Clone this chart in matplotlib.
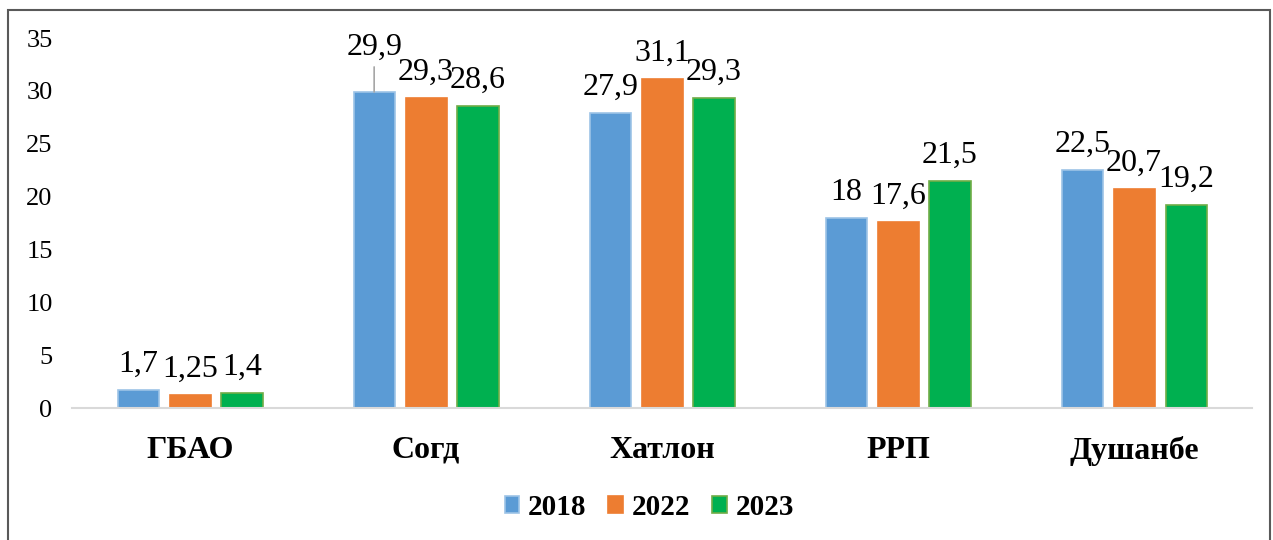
import matplotlib.pyplot as plt
from matplotlib.patches import Rectangle
import numpy as np

plt.rcParams['font.family'] = ['Liberation Serif', 'DejaVu Serif']

# Данные
regions = ['ГБАО', 'Согд', 'Хатлон', 'РРП', 'Душанбе']
years = ['2018', '2022', '2023']
v2018 = [1.7, 29.9, 27.9, 18, 22.5]
v2022 = [1.25, 29.3, 31.1, 17.6, 20.7]
v2023 = [1.4, 28.6, 29.3, 21.5, 19.2]
series = [v2018, v2022, v2023]
colors = ['#5B9BD5', '#ED7D31', '#00B050']
edges = ['#9DC3E6', '#ED7D31', '#70AD47']

fig = plt.figure(figsize=(12.73, 5.4), dpi=100)
ax = fig.add_axes([0.0566, 0.2444, 0.927, 0.6852])

x = np.arange(len(regions))
step, width = 0.22, 0.174

for i, (vals, year) in enumerate(zip(series, years)):
    pos = x + (i - 1) * step
    ax.bar(pos, vals, width, color=colors[i], edgecolor=edges[i], linewidth=1.2, label=year)
    for px, v in zip(pos, vals):
        txt = f'{v:g}'.replace('.', ',')
        if i == 0 and v == 29.9:
            # подпись с выноской
            ax.annotate(txt, (px, v), xytext=(0, 22), textcoords='offset points',
                        ha='center', va='bottom', fontsize=23,
                        arrowprops=dict(arrowstyle='-', color='#A6A6A6', lw=1.2,
                                        shrinkA=2, shrinkB=0))
        else:
            ax.annotate(txt, (px, v), xytext=(0, 8), textcoords='offset points',
                        ha='center', va='bottom', fontsize=23)

ax.set_xlim(-0.5, len(regions) - 0.5)
ax.set_ylim(0, 35)
ax.set_yticks(range(0, 36, 5))
ax.set_xticks(x)
ax.set_xticklabels(regions)
ax.tick_params(axis='both', length=0, labelsize=19)
ax.tick_params(axis='y', pad=14)
ax.tick_params(axis='x', pad=20)
for lbl in ax.get_xticklabels():
    lbl.set_fontsize(23)
    lbl.set_fontweight('bold')
for s in ['top', 'right', 'left']:
    ax.spines[s].set_visible(False)
ax.spines['bottom'].set_color('#D9D9D9')
ax.spines['bottom'].set_linewidth(1.5)

leg = fig.legend(loc='center', bbox_to_anchor=(0.51, 0.061), ncol=3, frameon=False,
                 prop={'size': 21, 'weight': 'bold'}, handlelength=0.5, handleheight=0.5,
                 handletextpad=0.3, columnspacing=0.75)

fig.add_artist(Rectangle((8 / 1273, -0.02), 1262 / 1273, 1 - 10 / 540 + 0.02,
                         transform=fig.transFigure, fill=False,
                         edgecolor='#595959', linewidth=1.5))

fig.savefig('out.png', dpi=100)
